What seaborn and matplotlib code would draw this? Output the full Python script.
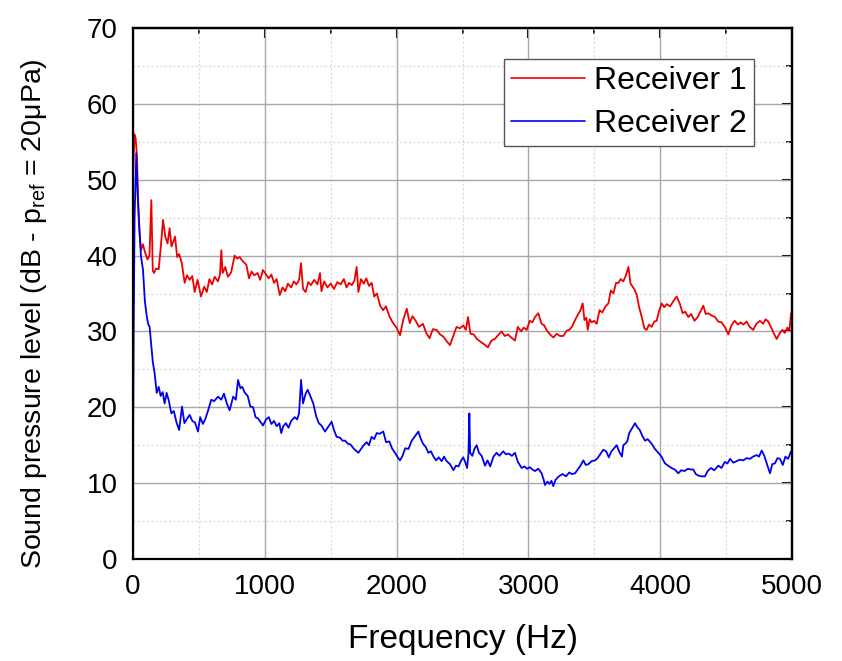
import numpy as np
import pandas as pd
import matplotlib
matplotlib.use("Agg")
import matplotlib.pyplot as plt
import seaborn as sns
from matplotlib.ticker import MultipleLocator

# ---------------- data ----------------
red_freq = [0, 10, 20, 30, 45, 60, 75, 90, 110, 125, 139, 150, 160, 175, 195, 210, 228, 245, 262, 278,
            292, 305, 319, 335, 350, 370, 392, 410, 430, 450, 468, 490, 516, 540, 560, 580, 600, 620, 645, 660,
            670, 680, 700, 720, 745, 771, 790, 810, 830, 860, 880, 900, 920, 945, 965, 986, 1010, 1030, 1050, 1070,
            1090, 1113, 1135, 1155, 1175, 1200, 1220, 1240, 1260, 1275, 1290, 1310, 1330, 1350, 1375, 1400, 1419, 1430, 1450, 1475,
            1500, 1525, 1550, 1575, 1600, 1620, 1640, 1660, 1680, 1697, 1710, 1730, 1750, 1770, 1790, 1811, 1830, 1850, 1875, 1897,
            1920, 1945, 1973, 2000, 2026, 2050, 2077, 2100, 2120, 2145, 2170, 2200, 2225, 2250, 2275, 2304, 2330, 2355, 2380, 2405,
            2430, 2455, 2480, 2506, 2525, 2542, 2560, 2585, 2610, 2640, 2665, 2693, 2720, 2745, 2770, 2797, 2820, 2845, 2870, 2898,
            2920, 2945, 2965, 2987, 3010, 3030, 3050, 3075, 3100, 3120, 3140, 3164, 3190, 3215, 3240, 3265, 3290, 3310, 3330, 3354,
            3375, 3395, 3412, 3425, 3440, 3450, 3465, 3480, 3500, 3518, 3540, 3560, 3585, 3607, 3625, 3645, 3665, 3683, 3700, 3720,
            3740, 3759, 3775, 3790, 3806, 3822, 3840, 3860, 3880, 3897, 3915, 3935, 3955, 3973, 3990, 4011, 4030, 4050, 4075, 4100,
            4125, 4150, 4170, 4190, 4213, 4235, 4260, 4285, 4305, 4327, 4345, 4365, 4390, 4416, 4440, 4465, 4490, 4517, 4540, 4565,
            4590, 4610, 4631, 4655, 4680, 4705, 4730, 4757, 4780, 4800, 4820, 4840, 4860, 4884, 4905, 4925, 4945, 4965, 4980, 4993,
            5000]
red_spl = [50, 56, 55.5, 53, 44, 40.7, 41.5, 40.5, 39.5, 40, 47.3, 38, 37.7, 38.3, 38.2, 41, 44.7, 42.5, 41.6, 43.6,
           41.2, 41.8, 42.5, 39.8, 40.2, 39, 36.4, 37.4, 36.8, 37.3, 35.2, 36.8, 34.6, 35.9, 35.2, 36.9, 36.2, 37.2, 36.6, 37.5,
           40.7, 37.7, 38.5, 37.2, 37.8, 40, 39.6, 39.8, 39.3, 38.8, 37, 37.9, 37.4, 37.7, 36.8, 38.1, 37.5, 37, 37.5, 36.4,
           36.9, 34.8, 35.8, 35.3, 36.3, 35.8, 36.6, 36.2, 36.8, 39, 35.6, 35.2, 36.5, 36.1, 36.8, 36.2, 37.7, 35.3, 36.6, 35.8,
           36.3, 35.6, 36.5, 36.2, 36.9, 35.8, 36.4, 36.1, 36.7, 38.5, 35.2, 36.9, 36.3, 37, 36, 36.4, 34.6, 35, 33.4, 32.8,
           33.3, 32, 31.1, 30.5, 29.5, 31.5, 33, 31.1, 32, 31.4, 30.6, 31, 29.8, 29.1, 30.3, 30.2, 29.6, 29.3, 28.7, 28.2,
           29.4, 30.6, 30.4, 30.8, 30.2, 31.9, 29.7, 29.6, 29, 28.6, 28.3, 27.9, 28.8, 29, 29.5, 30, 29.4, 29.6, 29.2, 28.8,
           30.6, 30, 30.5, 30.2, 31.4, 31.2, 31.9, 32.4, 31, 30.8, 30.1, 29.6, 29.2, 29.7, 29.4, 29.4, 30.1, 30.2, 30.6, 31.5,
           32.2, 32.8, 33.7, 31.5, 31.8, 30.2, 31.6, 31.2, 31.4, 31, 32.8, 32.5, 33.3, 33.7, 35.4, 35, 36.4, 36.4, 36.9, 36.6,
           37.4, 38.5, 36.3, 35.9, 35.5, 34.8, 33.2, 31.9, 30.4, 30.2, 30.9, 30.6, 31.3, 31.4, 32.6, 33.7, 33.2, 33.6, 33.3, 34,
           34.6, 33.6, 32.4, 32.6, 31.9, 32.3, 31.4, 31.9, 32.6, 33.4, 32.3, 32.4, 32.1, 31.9, 31.3, 31.2, 30.6, 29.6, 30.8, 31.4,
           30.9, 31.2, 30.9, 31.3, 30.6, 30.2, 31, 31.4, 31, 31.6, 31.3, 30.6, 29.8, 29, 29.7, 30.2, 29.8, 30.5, 30.1, 32.4,
           31.5]

blue_freq = [0, 5, 12, 20, 25, 35, 45, 60, 76, 90, 105, 115, 126, 135, 150, 164, 180, 195, 210, 225,
             240, 255, 270, 291, 310, 330, 350, 372, 390, 410, 430, 450, 470, 493, 510, 530, 550, 570, 594, 615,
             645, 670, 690, 712, 733, 760, 780, 797, 815, 830, 845, 870, 890, 911, 930, 950, 970, 986, 1010, 1030,
             1050, 1070, 1090, 1110, 1125, 1140, 1160, 1180, 1200, 1227, 1245, 1260, 1275, 1290, 1310, 1325, 1345, 1368, 1390, 1410,
             1430, 1457, 1480, 1507, 1525, 1545, 1570, 1590, 1609, 1630, 1650, 1672, 1690, 1710, 1730, 1750, 1773, 1790, 1810, 1830,
             1849, 1870, 1899, 1920, 1945, 1965, 1988, 2005, 2026, 2045, 2065, 2090, 2115, 2140, 2165, 2180, 2200, 2220, 2241, 2260,
             2280, 2300, 2320, 2342, 2360, 2380, 2405, 2431, 2450, 2470, 2490, 2506, 2520, 2535, 2545, 2552, 2558, 2575, 2590, 2607,
             2625, 2645, 2671, 2690, 2710, 2735, 2759, 2780, 2809, 2830, 2850, 2875, 2898, 2920, 2949, 2970, 2990, 3010, 3030, 3050,
             3075, 3100, 3115, 3126, 3145, 3160, 3175, 3189, 3205, 3225, 3240, 3260, 3285, 3310, 3330, 3354, 3375, 3395, 3417, 3435,
             3455, 3480, 3505, 3525, 3545, 3568, 3590, 3610, 3630, 3650, 3670, 3690, 3710, 3720, 3735, 3750, 3765, 3785, 3809, 3825,
             3845, 3865, 3885, 3905, 3935, 3960, 3986, 4010, 4036, 4060, 4085, 4110, 4137, 4160, 4185, 4210, 4230, 4251, 4270, 4290,
             4310, 4340, 4360, 4385, 4410, 4441, 4465, 4490, 4510, 4530, 4555, 4580, 4605, 4631, 4655, 4680, 4705, 4732, 4750, 4770,
             4790, 4810, 4833, 4850, 4870, 4890, 4909, 4930, 4950, 4970, 4993, 5000]
blue_spl = [14, 30, 45, 50, 53.5, 48, 44.7, 40, 38.1, 34, 31.9, 31, 30.6, 28.9, 26, 24.5, 21.9, 22.7, 21.5, 22,
            20.5, 21.9, 21, 19.2, 19.5, 18, 17, 20.1, 17.9, 18.5, 19, 18.2, 18, 16.8, 18.7, 17.8, 18.5, 19.6, 21, 20.8,
            21.4, 21, 21.8, 20.5, 19.6, 21.4, 21, 23.6, 22.5, 22.7, 22, 21.5, 20.1, 20, 18.7, 18.5, 18, 17.6, 18.4, 18.7,
            17.8, 18.2, 17.5, 17.9, 16.6, 17.5, 17.9, 17.3, 18.2, 18.7, 18.4, 19.2, 23.6, 20.5, 21.8, 22.3, 21.5, 20.5, 18.8, 17.9,
            17.6, 16.8, 17.4, 18.1, 17, 16.1, 16, 15.6, 15.6, 15.2, 15.1, 14.6, 14.3, 14, 14.5, 15, 15.4, 15, 16.1, 15.8,
            16.6, 16.5, 16.8, 15.4, 15.5, 14.6, 14, 13.5, 13, 13.6, 14.6, 14.5, 15.6, 16.2, 16.8, 16, 15.2, 14.8, 14, 14.2,
            13.5, 13, 13.4, 12.9, 13.5, 12.9, 12.5, 11.7, 12.3, 12.2, 13, 13.4, 12.8, 12, 13.8, 19.2, 14, 13.6, 14.5, 15,
            14, 13.6, 12.3, 13, 12.2, 13.5, 14, 13.6, 14.2, 13.8, 13.9, 13.6, 14, 12.8, 12, 12.2, 11.9, 12.1, 11.8, 11.6,
            11.9, 11.3, 10.5, 9.75, 10.2, 9.9, 10.3, 9.6, 10.4, 10.8, 11, 11.2, 10.9, 11.4, 11.2, 11.3, 11.8, 12.3, 13, 12.4,
            12.5, 12.9, 13, 13.3, 13.8, 14.4, 14.2, 13.4, 14.2, 14.6, 15, 14.1, 13.5, 15, 15.2, 15.5, 16.6, 17.2, 17.9, 17.4,
            17, 16.2, 15.6, 15.8, 15.2, 14.5, 14, 13.5, 12.6, 12.3, 12, 11.8, 11.3, 11.7, 11.6, 11.9, 11.8, 11.8, 11.2, 11,
            10.9, 10.9, 11.6, 12, 11.7, 12.3, 12, 12.8, 12.6, 13.2, 12.7, 12.9, 13.1, 13, 13.3, 13.2, 13.5, 13.7, 13.5, 14.3,
            13.6, 12.5, 11.3, 12.5, 12.6, 13.3, 13.2, 12.4, 13.5, 13.2, 14.2, 14]

series_names = ["Receiver 1", "Receiver 2"]
series_colors = ["#ee0000", "#0000ee"]
x_ticks = [0, 1000, 2000, 3000, 4000, 5000]
y_ticks = [0, 10, 20, 30, 40, 50, 60, 70]

df = pd.concat([
    pd.DataFrame({"Frequency": red_freq, "SPL": red_spl, "Receiver": series_names[0]}),
    pd.DataFrame({"Frequency": blue_freq, "SPL": blue_spl, "Receiver": series_names[1]}),
], ignore_index=True)

# ---------------- plot ----------------
sns.set_theme(style="white")
plt.rcParams["font.family"] = ["Liberation Sans", "DejaVu Sans"]
plt.rcParams["text.color"] = "black"
plt.rcParams["axes.labelcolor"] = "black"
plt.rcParams["xtick.color"] = "black"
plt.rcParams["ytick.color"] = "black"
plt.rcParams["mathtext.fontset"] = "custom"
plt.rcParams["mathtext.rm"] = "Liberation Sans"
plt.rcParams["mathtext.it"] = "Liberation Sans:italic"

fig = plt.figure(figsize=(8.42, 6.61), dpi=100)
ax = fig.add_axes([133 / 842, 1 - 559 / 661, (792 - 133) / 842, (559 - 28) / 661])

sns.lineplot(data=df, x="Frequency", y="SPL", hue="Receiver", palette=series_colors,
             estimator=None, sort=False, linewidth=1.3, ax=ax)

ax.set_xlim(0, 5000)
ax.set_ylim(0, 70)
ax.set_xticks(x_ticks)
ax.set_yticks(y_ticks)
ax.xaxis.set_minor_locator(MultipleLocator(500))
ax.yaxis.set_minor_locator(MultipleLocator(5))

ax.grid(True, which="major", color="#a8a8a8", linewidth=1.0, linestyle="-")
ax.grid(True, which="minor", color="#d8d8d8", linewidth=0.8, linestyle=(0, (2, 2)))
ax.set_axisbelow(True)

for s in ax.spines.values():
    s.set_visible(True)
    s.set_color("black")
    s.set_linewidth(1.6)

ax.tick_params(which="major", direction="out", length=7, width=1.5, labelsize=20, colors="black", pad=4)
ax.tick_params(which="minor", direction="out", length=4, width=1.2)

# inward ticks on top and right
secx = ax.secondary_xaxis("top")
secx.set_xticks(x_ticks)
secx.xaxis.set_minor_locator(MultipleLocator(500))
secx.tick_params(which="major", direction="in", length=7, width=1.5, labeltop=False)
secx.tick_params(which="minor", direction="in", length=4, width=1.2)
secx.spines["top"].set_linewidth(1.6)
secy = ax.secondary_yaxis("right")
secy.set_yticks(y_ticks)
secy.yaxis.set_minor_locator(MultipleLocator(5))
secy.tick_params(which="major", direction="in", length=7, width=1.5, labelright=False)
secy.tick_params(which="minor", direction="in", length=4, width=1.2)
secy.spines["right"].set_linewidth(1.6)

ax.set_xlabel("Frequency (Hz)", fontsize=24, labelpad=17, color="black")
ax.set_ylabel(r"Sound pressure level (dB - p$_{\mathrm{ref}}$ = 20$\mathrm{\mu}$Pa)", fontsize=20.5,
              color="black")
ax.yaxis.set_label_coords(-0.128, 0.462)

leg = ax.legend(loc="upper right", bbox_to_anchor=(754 / 842, 1 - 59 / 661), bbox_transform=fig.transFigure,
                fontsize=23, frameon=True, fancybox=False, framealpha=1, edgecolor="#555555",
                handlelength=2.3, handletextpad=0.3, borderpad=0.22, labelspacing=0.42, borderaxespad=0)
leg.get_frame().set_linewidth(1.0)
for t in leg.get_texts():
    t.set_color("black")
for line in leg.get_lines():
    line.set_linewidth(1.2)

fig.savefig("out.png", dpi=100)
